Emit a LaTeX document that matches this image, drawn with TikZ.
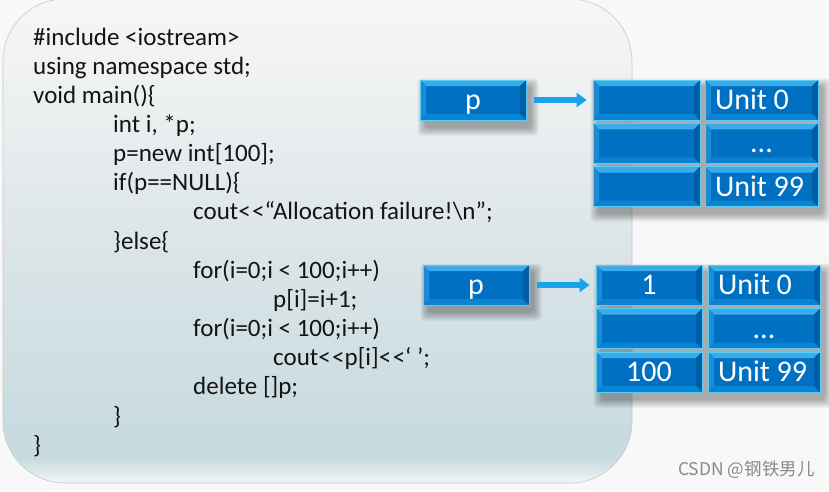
\documentclass[tikz,border=0pt]{standalone}
\usepackage{fontspec}
\setmainfont{Carlito}
\newfontfamily\cjkfont{Noto Sans CJK SC}
\usetikzlibrary{arrows.meta}

\definecolor{bgout}{HTML}{F8F8F8}
\definecolor{ptop}{HTML}{F6F6F6}
\definecolor{pmidA}{HTML}{EDF0F1}
\definecolor{pmidB}{HTML}{DCE5E8}
\definecolor{pbotA}{HTML}{C8DBE0}
\definecolor{pbotB}{HTML}{F0F5F6}
\definecolor{pline}{HTML}{C6C9CB}
\definecolor{cellmain}{HTML}{0070C2}
\definecolor{celltop}{HTML}{3AACEA}
\definecolor{cellleft}{HTML}{1A8CD6}
\definecolor{cellright}{HTML}{005EA6}
\definecolor{cellbot}{HTML}{0A84D2}
\definecolor{cellborder}{HTML}{5CCCF4}
\definecolor{arrowblue}{HTML}{1BA2EA}
\definecolor{codetext}{HTML}{141414}
\definecolor{wmgray}{HTML}{8A8A8A}

\pgfdeclareverticalshading{panelshade}{100bp}{color(0bp)=(pbotB); color(25bp)=(pbotB); color(27.5bp)=(pbotA); color(30bp)=(pbotA); color(50bp)=(pmidB); color(65bp)=(pmidA); color(75bp)=(ptop); color(100bp)=(ptop)}

\newcommand\softshadow[4]{%
  \foreach \s in {0,1.5,...,7.5}{%
    \fill[black,opacity=0.06,rounded corners=4pt] (#1+5-\s,#2+6-\s) rectangle (#3+5+\s,#4+8+\s);}}
\newcommand\lt{<\kern1.5pt<}

\tikzset{
  code/.style={anchor=base west, inner sep=0pt, text=codetext, font=\fontsize{25pt}{29pt}\selectfont},
  cell/.style={draw=cellborder, line width=0.8pt, fill=cellmain, minimum height=40pt,
    inner sep=0pt, inner xsep=10pt, text=white, text height=19pt, text depth=0pt,
    font=\fontsize{30pt}{33pt}\selectfont,
    path picture={
      \fill[celltop] (path picture bounding box.north west) -- (path picture bounding box.north east)
        -- ([shift={(-6pt,-6pt)}]path picture bounding box.north east)
        -- ([shift={(6pt,-6pt)}]path picture bounding box.north west) -- cycle;
      \fill[cellbot] (path picture bounding box.south west) -- (path picture bounding box.south east)
        -- ([shift={(-6pt,6pt)}]path picture bounding box.south east)
        -- ([shift={(6pt,6pt)}]path picture bounding box.south west) -- cycle;
      \fill[cellleft] (path picture bounding box.north west)
        -- ([shift={(6pt,-6pt)}]path picture bounding box.north west)
        -- ([shift={(6pt,6pt)}]path picture bounding box.south west)
        -- (path picture bounding box.south west) -- cycle;
      \fill[cellright] (path picture bounding box.north east)
        -- ([shift={(-6pt,-6pt)}]path picture bounding box.north east)
        -- ([shift={(-6pt,6pt)}]path picture bounding box.south east)
        -- (path picture bounding box.south east) -- cycle;
    }},
  arr/.style={draw=arrowblue, line width=5.5pt, -{Triangle[length=10pt,width=14pt]},
    shorten <=8pt, shorten >=6pt}
}

\begin{document}
\begin{tikzpicture}[x=1pt,y=-1pt]
\useasboundingbox (0,0) rectangle (829,491);
\fill[bgout] (0,0) rectangle (829,491);

% panel
\shade[shading=panelshade, draw=pline, line width=0.6pt, rounded corners=62pt]
  (3,-1) rectangle (632,483);

% code
\node[code] (l1)  at (33,45)    {\#include <iostream>};
\node[code] (l2)  at (33,74.2)  {using namespace std;};
\node[code] (l3)  at (33,103.3) {void main()\{};
\node[code] (l4)  at (113,132.5) {int i, *p;};
\node[code] (l5)  at (113,161.6) {p=new int[100];};
\node[code] (l6)  at (113,190.8) {if(p==NULL)\{};
\node[code] (l7)  at (193,219.9) {cout\lt“Allocation failure!\textbackslash n”;};
\node[code] (l8)  at (113,249.1) {\}else\{};
\node[code] (l9)  at (193,278.2) {for(i=0;i < 100;i++)};
\node[code] (l10) at (273,307.4) {p[i]=i+1;};
\node[code] (l11) at (193,336.5) {for(i=0;i < 100;i++)};
\node[code] (l12) at (273,365.7) {cout\lt p[i]\lt‘ ’;};
\node[code] (l13) at (193,394.8) {delete []p;};
\node[code] (l14) at (113,424)  {\}};
\node[code] (l15) at (33,453.1) {\}};

% shadows
\softshadow{420}{80}{526}{120}
\softshadow{593}{80}{818}{206}
\softshadow{423}{265}{529}{305}
\softshadow{596}{265}{820}{392}

% top group
\node[cell, minimum width=106pt] (p1) at (473,100) {p};
\node[cell, minimum width=107pt] (a1) at (646.5,100) {};
\node[cell, minimum width=107pt] (a2) at (646.5,143.3) {};
\node[cell, minimum width=107pt] (a3) at (646.5,186.5) {};
\node[cell, minimum width=113pt] (u1) at (761.5,100) {\makebox[93pt][l]{Unit 0}};
\node[cell, minimum width=113pt] (u2) at (761.5,143.3) {...};
\node[cell, minimum width=113pt] (u3) at (761.5,186.5) {\makebox[93pt][l]{Unit 99}};
\draw[arr] (p1) -- (a1);

% bottom group
\node[cell, minimum width=106pt] (p2) at (476,285) {p};
\node[cell, minimum width=106pt] (b1) at (649,285) {1};
\node[cell, minimum width=106pt] (b2) at (649,328.5) {};
\node[cell, minimum width=106pt] (b3) at (649,372) {100};
\node[cell, minimum width=112pt] (v1) at (764,285) {\makebox[92pt][l]{Unit 0}};
\node[cell, minimum width=112pt] (v2) at (764,328.5) {...};
\node[cell, minimum width=112pt] (v3) at (764,372) {\makebox[92pt][l]{Unit 99}};
\draw[arr] (p2) -- (b1);

% watermark
\node[anchor=base west, inner sep=0pt, text=wmgray, font=\cjkfont\fontsize{17.5pt}{19pt}\selectfont] (wm) at (678,475) {CSDN @钢铁男儿};
\end{tikzpicture}
\end{document}
